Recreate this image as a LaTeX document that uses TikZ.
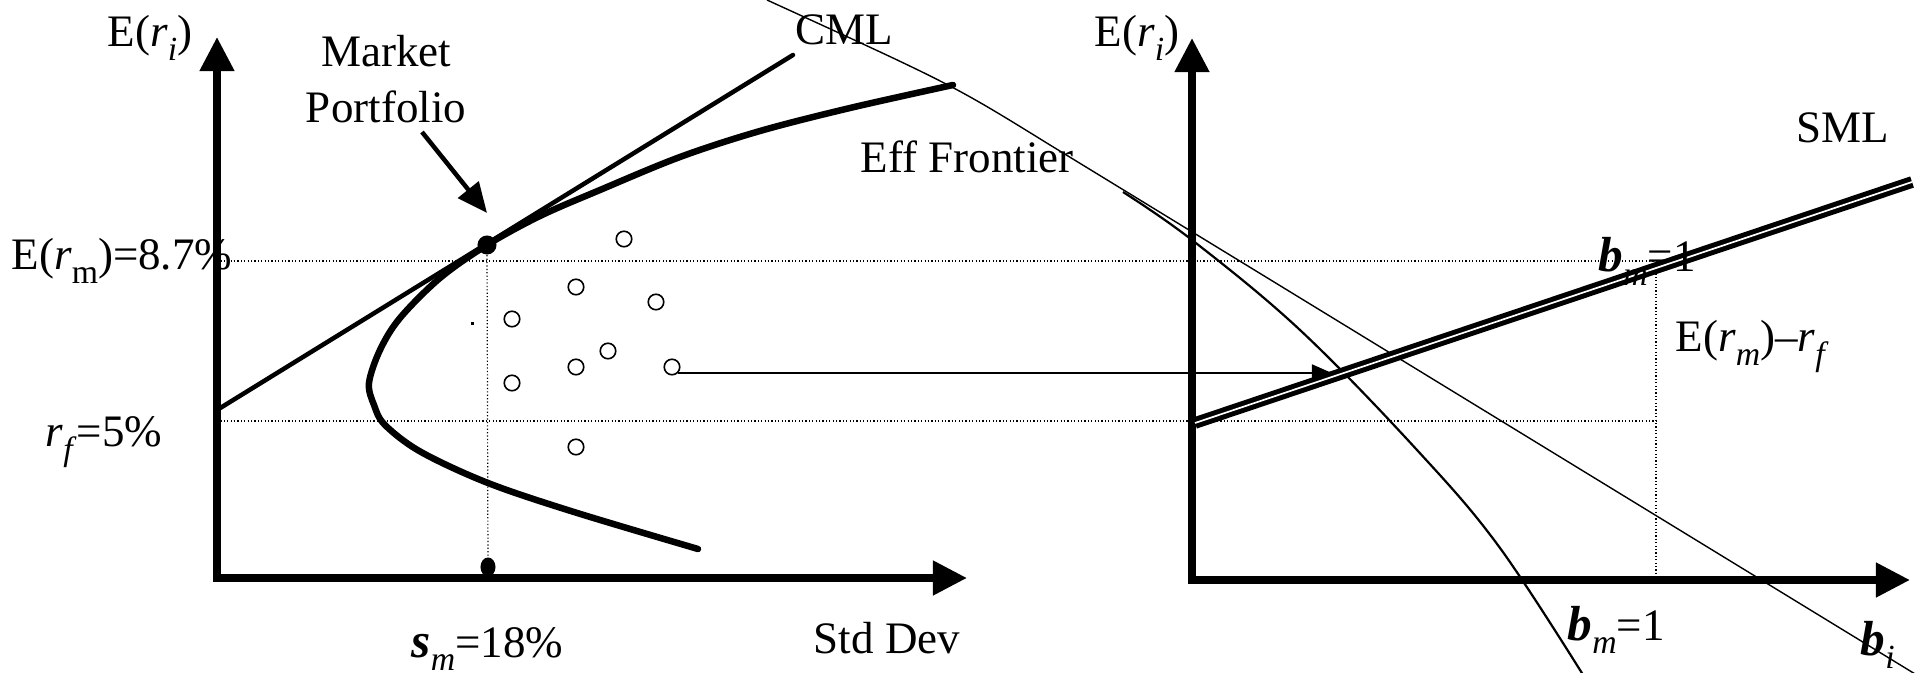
\documentclass[tikz,border=0pt]{standalone}
\usepackage{fontspec}
\setmainfont{Liberation Serif}
\usetikzlibrary{arrows.meta,shapes.geometric}

\newcommand{\bsym}[1]{{\fontsize{14}{14}\selectfont\bfseries\itshape #1}}
\newcommand{\lowsub}[1]{\raisebox{-0.3em}{\fontsize{9.6}{10}\selectfont #1}}

\begin{document}
\begin{tikzpicture}[x=0.01cm,y=-0.01cm,
    every node/.style={font=\fontsize{12.8}{16.2}\selectfont},
    lbl/.style={anchor=base west,inner sep=0pt},
    axis/.style={line width=0.075cm,line join=miter,
      {Triangle[length=0.34cm,width=0.33cm]}-{Triangle[length=0.34cm,width=0.33cm]}},
    guide/.style={line width=0.012cm,dash pattern=on 0.012cm off 0.022cm},
    port/.style={circle,draw,line width=0.016cm,minimum size=0.155cm,inner sep=0pt},
    dot/.style={circle,fill,minimum size=0.19cm,inner sep=0pt}]
  \useasboundingbox (0,0) rectangle (1920,673);

  \coordinate (oL) at (217,578);
  \coordinate (yL) at (217,37);
  \coordinate (xL) at (967,578);
  \coordinate (oR) at (1192,580);
  \coordinate (yR) at (1192,38);
  \coordinate (xR) at (1910,580);

  % dotted guides
  \coordinate (ermL) at (217,261);
  \coordinate (ermR) at (1656,261);
  \coordinate (rfL) at (217,421);
  \coordinate (rfR) at (1656,421);
  \coordinate (bmTop) at (1656,270);
  \node[dot] (mkt) at (487,245) {};
  \node[dot,ellipse,minimum width=0.15cm,minimum height=0.19cm] (sig) at (488,567) {};
  \draw[guide] (ermL) -- (ermR);
  \draw[guide] (rfL) -- (rfR);
  \draw[guide] (mkt) -- (sig);
  \draw[guide] (bmTop) -- (bmTop |- oR);

  % axes
  \draw[axis] (yL) -- (oL) -- (xL);
  \draw[axis] (yR) -- (oR) -- (xR);

  % capital market line
  \coordinate (rf) at (217,410);
  \coordinate (cmlEnd) at (793,55);
  \draw[line width=0.045cm,line cap=round] (rf) -- (cmlEnd);

  % efficient frontier
  \draw[line width=0.065cm,line cap=round] plot[smooth,tension=0.55] coordinates {
    (953,85) (850,108) (760,131) (680,157) (600,190) (540,216) (487,245) (440,278)
    (400,318) (380,350) (369,383) (374,405) (385,425) (421,452) (488,483) (574,512) (698,549)};

  % single assets
  \foreach \n/\x/\y in {1/624/239,2/576/287,3/656/302,4/512/319,5/608/351,
      6/576/367,7/512/383,8/672/367,9/576/447}
    \node[port] (p\n) at (\x,\y) {};
  \fill (471,322) rectangle (474,325);

  % thin lines
  \coordinate (arcTop) at (767,0);
  \coordinate (arcMid) at (1050,145);
  \coordinate (arcEnd) at (1920,677);
  \draw[line width=0.014cm] (arcTop) .. controls (953,85) .. (arcMid) -- (arcEnd);
  \draw[line width=0.022cm] plot[smooth,tension=0.6] coordinates {
    (1123,192) (1192,240) (1300,330) (1417,450) (1500,548) (1590,686)};

  % security market line
  \coordinate (smlA) at (1195,423);
  \coordinate (smlB) at (1912,182);
  \draw[line width=0.05cm,double,double distance=0.017cm] (smlA) -- (smlB);

  % arrows
  \coordinate (betaPt) at (1332,372);
  \draw[line width=0.02cm,-{Triangle[length=0.2cm,width=0.17cm]}]
    (p8.south east) -- (p8.south east -| betaPt);
  \coordinate (arrTail) at (422,132);
  \coordinate (arrTip) at (487,213);
  \draw[line width=0.045cm,-{Triangle[length=0.3cm,width=0.26cm]}] (arrTail) -- (arrTip);

  % labels
  \node[lbl] (eriL) at (107,47) {E(\textit{r}\lowsub{\textit{i}})};
  \node[lbl] (eriR) at (1094,47) {E(\textit{r}\lowsub{\textit{i}})};
  \node[anchor=base,inner sep=0pt,align=center] (mktLbl) at (386,123) {Market\\Portfolio};
  \node[lbl] (ermLbl) at (11,270) {E(\textit{r}\lowsub{m})=8.7\%};
  \node[lbl] (rfLbl) at (45,447) {\textit{r}\lowsub{\textit{f}}=5\%};
  \node[lbl] (sigLbl) at (411,657) {\bsym{s}\lowsub{\textit{m}}=18\%};
  \node[lbl] (sdLbl) at (813,653) {Std Dev};
  \node[lbl] (cmlLbl) at (795,45) {CML};
  \node[lbl] (effLbl) at (860,173) {Eff Frontier};
  \node[lbl] (smlLbl) at (1796,143) {SML};
  \node[lbl] (bmUp) at (1598,272) {\bsym{b}\lowsub{\textit{m}}=1};
  \node[lbl] (premLbl) at (1675,352) {E(\textit{r}\lowsub{\textit{m}})–\textit{r}\lowsub{\textit{f}}};
  \node[lbl] (bmLo) at (1567,640) {\bsym{b}\lowsub{\textit{m}}=1};
  \node[lbl] (biLbl) at (1860,655) {\bsym{b}\lowsub{\textit{i}}};
\end{tikzpicture}
\end{document}
